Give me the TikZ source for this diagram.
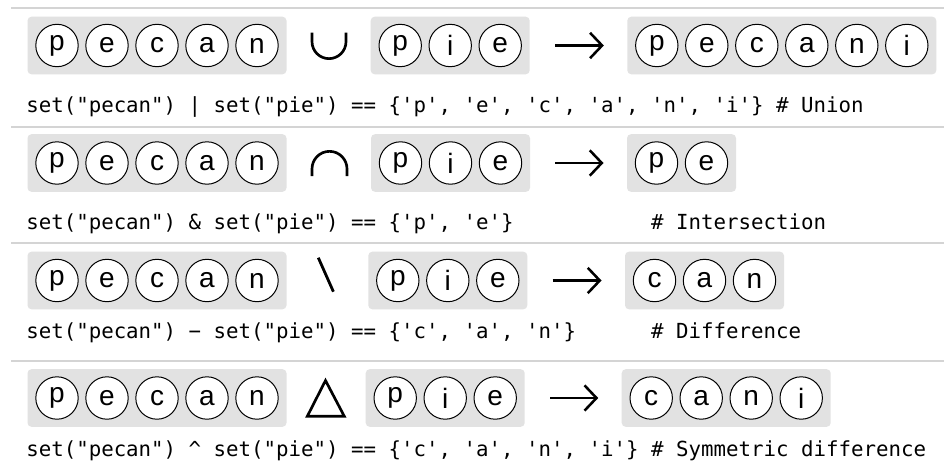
\documentclass[tikz,border=0pt]{standalone}
\usepackage{fontspec}
\newfontfamily\letterfont{Liberation Sans}
\newfontfamily\codefont{DejaVu Sans Mono}
\usetikzlibrary{arrows.meta}
\definecolor{boxgray}{RGB}{226,226,226}
\definecolor{rulegray}{RGB}{212,212,212}
\tikzset{
  setbox/.style={rectangle, fill=boxgray, rounded corners=3pt, minimum height=43.2pt, inner sep=0pt, outer sep=0pt, anchor=west},
  elem/.style={circle, draw=black, fill=white, line width=0.75pt, minimum size=31.8pt, inner sep=0pt, font=\letterfont\fontsize{21}{24}\selectfont},
  code/.style={anchor=base west, inner sep=0pt, font=\codefont\fontsize{15.57}{18}\selectfont},
  arr/.style={line width=1.7pt, -{Straight Barb[length=9pt, width=19pt, line width=1.9pt]}, shorten <=19pt, shorten >=17.6pt},
  opsym/.style={line width=2pt},
  sep/.style={draw=rulegray, line width=1.5pt}
}
\newcommand\mkset[5]{%
  \node[setbox, minimum width={(50*#4+9)*0.75pt}] (#1) at (#2,#3) {};
  \foreach \l [count=\i] in {#5} {
    \node[elem] (#1-\i) at ({#2+29.5+50*(\i-1)},#3) {\l};
  }%
}
\begin{document}
\begin{tikzpicture}[x=0.75pt,y=-0.75pt]
\useasboundingbox (0,0) rectangle (944,467);
\fill[white] (0,0) rectangle (944,467);
% separators
\draw[sep] (11,8.3) -- (944,8.3);
\draw[sep] (11,126.6) -- (944,126.6);
\draw[sep] (11,243.3) -- (944,243.3);
\draw[sep] (11,361) -- (944,361);
% row 1: union
\mkset{A1}{27.5}{45.5}{5}{p,e,c,a,n}
\draw[opsym] (312,32.7) -- (312,41.65) arc[start angle=180, end angle=0, radius=17] -- (346,32.7);
\mkset{B1}{370.7}{45.5}{3}{p,i,e}
\mkset{R1}{627.3}{45.5}{6}{p,e,c,a,n,i}
\draw[arr] (B1.east) -- (R1.west);
\node[code] (c1) at (26,112.3) {set("pecan") | set("pie") == \{'p', 'e', 'c', 'a', 'n', 'i'\} \# Union};
% row 2: intersection
\mkset{A2}{27.5}{163}{5}{p,e,c,a,n}
\draw[opsym] (312,176) -- (312,168.85) arc[start angle=180, end angle=360, radius=17.5] -- (347,176);
\mkset{B2}{371}{163}{3}{p,i,e}
\mkset{R2}{627}{163}{2}{p,e}
\draw[arr] (B2.east) -- (R2.west);
\node[code] (c2) at (26,229) {set("pecan") \& set("pie") == \{'p', 'e'\}~~~~~~~~~~~\# Intersection};
% row 3: difference
\mkset{A3}{27.5}{280.5}{5}{p,e,c,a,n}
\draw[line width=2.1pt] (318.3,257.7) -- (333.4,291.7);
\mkset{B3}{368.3}{280.5}{3}{p,i,e}
\mkset{R3}{625}{280.5}{3}{c,a,n}
\draw[arr] (B3.east) -- (R3.west);
\node[code] (c3) at (26,338.2) {set("pecan") − set("pie") == \{'c', 'a', 'n'\}~~~~~~\# Difference};
% row 4: symmetric difference
\mkset{A4}{27.5}{398}{5}{p,e,c,a,n}
\draw[opsym, line join=miter] (325.5,380.5) -- (344.3,416.3) -- (307.3,416.3) -- cycle;
\mkset{B4}{365.7}{398}{3}{p,i,e}
\mkset{R4}{621.7}{398}{4}{c,a,n,i}
\draw[arr] (B4.east) -- (R4.west);
\node[code] (c4) at (26,456.7) {set("pecan") \textasciicircum{} set("pie") == \{'c', 'a', 'n', 'i'\} \# Symmetric difference};
\end{tikzpicture}
\end{document}
